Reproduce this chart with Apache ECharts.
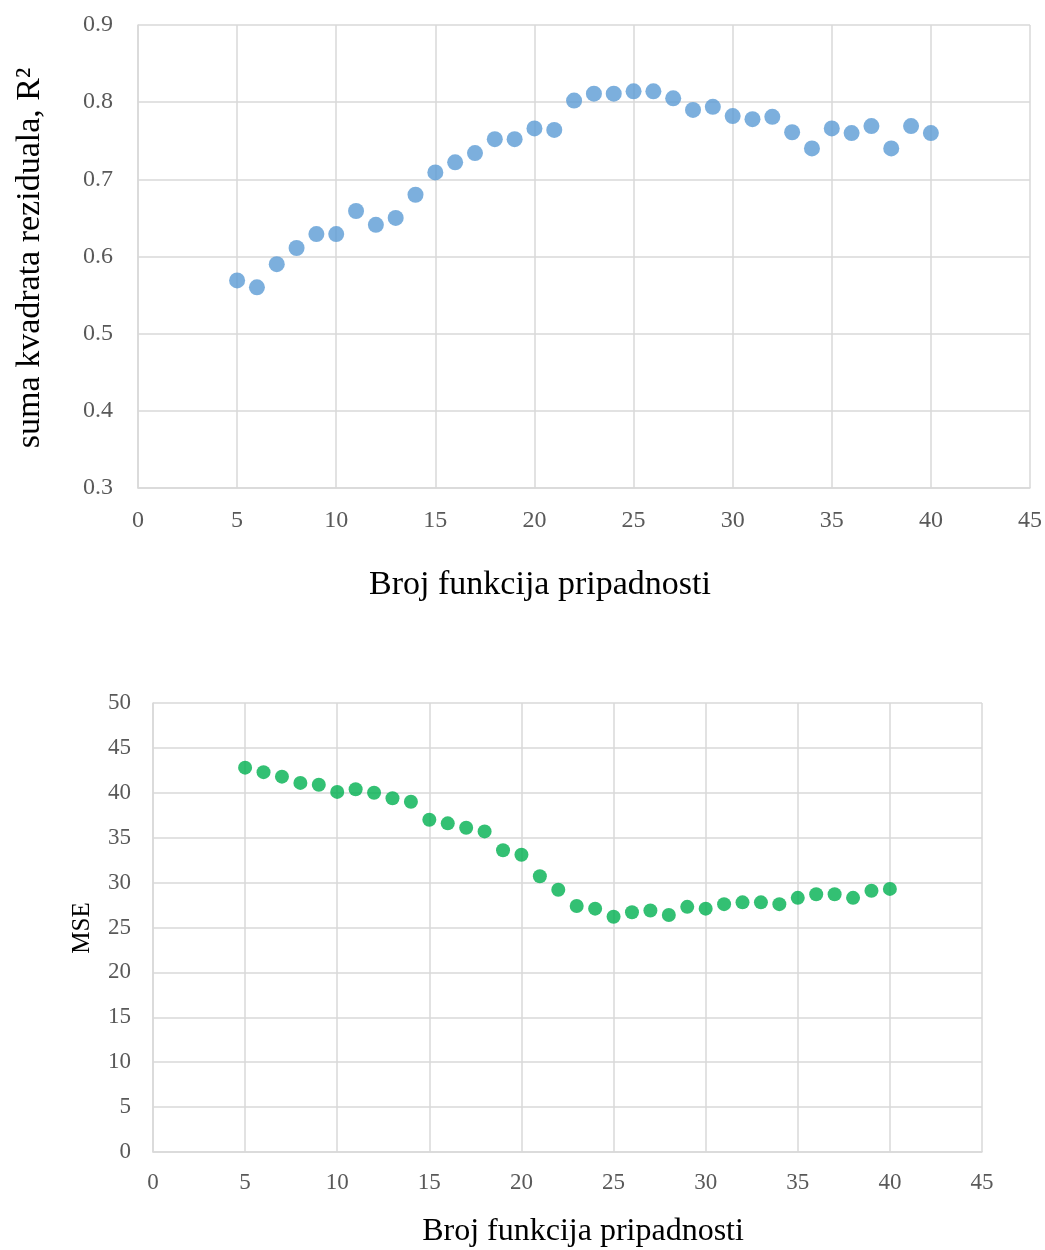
<!DOCTYPE html>
<html>
<head>
<meta charset="utf-8">
<script src="https://cdn.jsdelivr.net/npm/echarts@6/dist/echarts.min.js"></script>
<style>
html,body{margin:0;padding:0;background:#fff;}
#chart{width:1045px;height:1250px;}
</style>
</head>
<body>
<div id="chart"></div>
<script>
// Number of membership functions (x values)
const xValues = [5,6,7,8,9,10,11,12,13,14,15,16,17,18,19,20,21,22,23,24,25,26,27,28,29,30,31,32,33,34,35,36,37,38,39,40];
// Top chart: R^2
const r2Values = [0.569,0.560,0.590,0.611,0.629,0.629,0.659,0.641,0.650,0.680,0.709,0.722,0.734,0.752,0.752,0.766,0.764,0.802,0.811,0.811,0.814,0.814,0.805,0.790,0.794,0.782,0.778,0.781,0.761,0.740,0.766,0.760,0.769,0.740,0.769,0.760];
// Bottom chart: MSE
const mseValues = [42.8,42.3,41.8,41.1,40.9,40.1,40.4,40.0,39.4,39.0,37.0,36.6,36.1,35.7,33.6,33.1,30.7,29.2,27.4,27.1,26.2,26.7,26.9,26.4,27.3,27.1,27.6,27.8,27.8,27.6,28.3,28.7,28.7,28.3,29.1,29.3];
// Axis texts
const xTitle = 'Broj funkcija pripadnosti';
const yTitleTop = 'suma kvadrata reziduala, R\u00B2';
const yTitleBottom = 'MSE';

const FONT = "'Liberation Serif', 'Times New Roman', serif";
const gridColor = '#d9d9d9';
const tickColor = '#595959';

const chart = echarts.init(document.getElementById('chart'), null, {renderer:'canvas'});

function xAxisCfg(gridIndex, fs, margin){
  return {
    gridIndex, type:'value', min:0, max:45, interval:5,
    axisLine:{show:true, lineStyle:{color:gridColor, width:1.5}},
    axisTick:{show:false},
    axisLabel:{color:tickColor, fontFamily:FONT, fontSize:fs, margin},
    splitLine:{show:true, lineStyle:{color:gridColor, width:1.5}}
  };
}

const option = {
  animation:false,
  backgroundColor:'#ffffff',
  grid:[
    {left:138, right:15, top:25, bottom:762, containLabel:false},
    {left:153, right:63, top:703, bottom:98, containLabel:false}
  ],
  xAxis:[ xAxisCfg(0, 24, 21), xAxisCfg(1, 23, 19) ],
  yAxis:[
    {
      gridIndex:0, type:'value', min:0.3, max:0.9, interval:0.1,
      axisLine:{show:true, lineStyle:{color:gridColor, width:1.5}},
      axisTick:{show:false},
      axisLabel:{color:tickColor, fontFamily:FONT, fontSize:24, margin:25,
        formatter:v=>v.toFixed(1)},
      splitLine:{show:true, lineStyle:{color:gridColor, width:1.5}}
    },
    {
      gridIndex:1, type:'value', min:0, max:50, interval:5,
      axisLine:{show:true, lineStyle:{color:gridColor, width:1.5}},
      axisTick:{show:false},
      axisLabel:{color:tickColor, fontFamily:FONT, fontSize:23, margin:22},
      splitLine:{show:true, lineStyle:{color:gridColor, width:1.5}}
    }
  ],
  series:[
    {
      type:'scatter', xAxisIndex:0, yAxisIndex:0,
      data:xValues.map((x,i)=>[x,r2Values[i]]),
      symbol:'circle', symbolSize:16,
      itemStyle:{color:'#5b9bd5'}
    },
    {
      type:'scatter', xAxisIndex:1, yAxisIndex:1,
      data:xValues.map((x,i)=>[x,mseValues[i]]),
      symbol:'circle', symbolSize:14,
      itemStyle:{color:'#00b050'}
    }
  ],
  graphic:[
    {type:'text', left:'center', style:{text:xTitle, font:'34px '+FONT, fill:'#000', textAlign:'center', textVerticalAlign:'middle'}, x:540, y:585, left:null},
    {type:'text', style:{text:yTitleTop, font:'34px '+FONT, fill:'#000', textAlign:'center', textVerticalAlign:'middle'}, x:30, y:258, rotation:Math.PI/2},
    {type:'text', style:{text:xTitle, font:'32px '+FONT, fill:'#000', textAlign:'center', textVerticalAlign:'middle'}, x:583, y:1232},
    {type:'text', style:{text:yTitleBottom, font:'25px '+FONT, fill:'#000', textAlign:'center', textVerticalAlign:'middle'}, x:82, y:928, rotation:Math.PI/2}
  ]
};
chart.setOption(option);
</script>
</body>
</html>
